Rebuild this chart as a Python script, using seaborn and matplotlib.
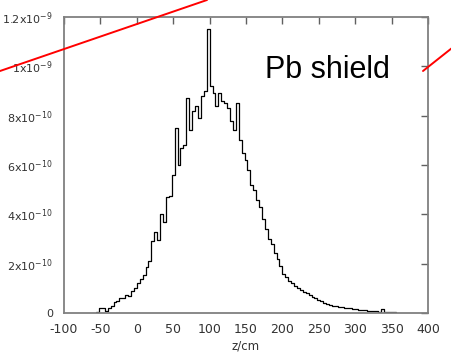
import numpy as np
import pandas as pd
import matplotlib
matplotlib.use("Agg")
import matplotlib.pyplot as plt
import seaborn as sns
from matplotlib.lines import Line2D

# Histogram: bin edges (cm) and heights (units of 1e-10)
bin_edges = list(range(-56, 357, 4))
heights = [
    0.05, 0.2, 0.2, 0.1, 0.2, 0.3, 0.45, 0.5, 0.62, 0.6,
    0.72, 0.7, 0.88, 1.0, 1.2, 1.38, 1.55, 1.85, 2.1, 2.9,
    3.3, 2.95, 4.0, 3.7, 4.7, 4.75, 5.6, 7.5, 6.0, 6.7,
    6.8, 8.7, 7.4, 8.2, 8.4, 7.9, 8.8, 9.0, 11.5, 9.2,
    8.9, 8.4, 8.9, 8.6, 8.5, 8.3, 7.8, 7.4, 8.5, 7.0,
    6.5, 6.2, 5.8, 5.2, 5.0, 4.6, 4.3, 3.8, 3.4, 3.0,
    2.8, 2.45, 2.2, 1.9, 1.6, 1.45, 1.3, 1.2, 1.1, 1.0,
    0.95, 0.85, 0.8, 0.72, 0.65, 0.6, 0.52, 0.48, 0.4, 0.36,
    0.32, 0.3, 0.28, 0.25, 0.25, 0.22, 0.2, 0.2, 0.16, 0.15,
    0.12, 0.12, 0.12, 0.1, 0.1, 0.08, 0.08, 0.06, 0.16, 0.05,
    0.06, 0.05, 0.05,
]
x_ticks = [-100, -50, 0, 50, 100, 150, 200, 250, 300, 350, 400]
y_ticks = [0, 2e-10, 4e-10, 6e-10, 8e-10, 1e-9, 1.2e-9]
y_tick_labels = ["0", r"2x10$^{-10}$", r"4x10$^{-10}$", r"6x10$^{-10}$",
                 r"8x10$^{-10}$", r"1x10$^{-9}$", r"1.2x10$^{-9}$"]
x_label = "z/cm"
annotation = "Pb shield"

centers = [(bin_edges[i] + bin_edges[i + 1]) / 2 for i in range(len(heights))]
df = pd.DataFrame({"z": centers, "w": [h * 1e-10 for h in heights]})

sns.set_style("white")
plt.rcParams["axes.unicode_minus"] = False
plt.rcParams["font.family"] = ["DejaVu Sans"]
plt.rcParams["mathtext.default"] = "regular"

fig = plt.figure(figsize=(4.52, 3.52), dpi=100)
ax = fig.add_axes([64 / 452, 1 - 313 / 352, 364 / 452, 296 / 352])

sns.histplot(data=df, x="z", weights="w", bins=bin_edges, element="step",
             fill=False, color="black", linewidth=0.9, ax=ax)

ax.set_xlim(-100, 400)
ax.set_ylim(0, 1.2e-9)
ax.set_xticks(x_ticks)
ax.set_xticklabels([str(t) for t in x_ticks])
ax.set_yticks(y_ticks)
ax.set_yticklabels(y_tick_labels)
ax.set_ylabel("")
ax.set_xlabel(x_label, fontsize=8.5, color="#333333", labelpad=3)

for s in ax.spines.values():
    s.set_color("#808080")
    s.set_linewidth(1.3)
ax.tick_params(axis="both", direction="in", length=5, width=1, color="#606060",
               top=True, right=True, labelcolor="#333333")
ax.tick_params(axis="x", pad=7, labelsize=9)
ax.tick_params(axis="y", pad=8, labelsize=8)

fig.text(265 / 452, 1 - 70 / 352, annotation, fontsize=22,
         family="Liberation Sans", va="center", ha="left", color="black")

fig.add_artist(Line2D([0, 207 / 452], [1 - 71 / 352, 1.0], color="red",
                      linewidth=1.4, transform=fig.transFigure))
fig.add_artist(Line2D([423 / 452, 1.0], [1 - 71 / 352, 1 - 48 / 352],
                      color="red", linewidth=1.4, transform=fig.transFigure))

fig.savefig("out.png", dpi=100)
